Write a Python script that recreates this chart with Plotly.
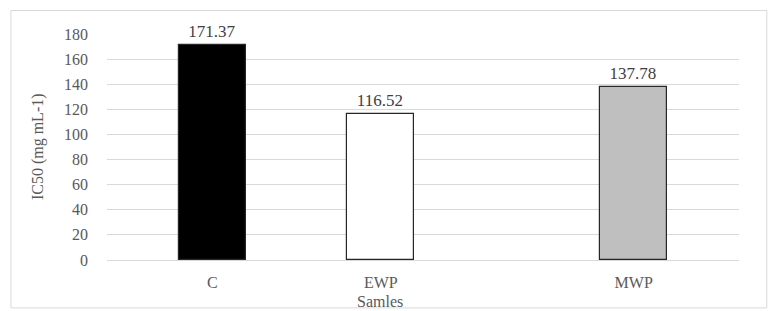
import plotly.graph_objects as go

categories = ["C", "EWP", "MWP"]
values = [171.37, 116.52, 137.78]
labels = ["171.37", "116.52", "137.78"]
slots = [0, 0.8, 2]
colors = ["#000000", "#ffffff", "#bfbfbf"]
y_ticks = [0, 20, 40, 60, 80, 100, 120, 140, 160, 180]
x_title = "Samles"
y_title = "IC50 (mg mL-1)"

font_family = "Liberation Serif"

fig = go.Figure()
fig.add_trace(go.Bar(
    x=slots, y=values, width=0.318,
    marker=dict(color=colors, line=dict(color="#262626", width=1.2)),
    text=labels, textposition="outside", cliponaxis=False,
    textfont=dict(family=font_family, size=17, color="#404040"),
))

fig.update_layout(
    width=769, height=311,
    margin=dict(l=107, r=30, t=34, b=51),
    paper_bgcolor="white", plot_bgcolor="white",
    showlegend=False,
    font=dict(family=font_family, color="#595959", size=16),
    xaxis=dict(range=[-0.5, 2.5], tickvals=slots, ticktext=categories,
               showgrid=False, zeroline=False, showline=True,
               linecolor="#d9d9d9", linewidth=1, ticks="",
               ticklabelstandoff=8,
               tickfont=dict(family=font_family, size=16, color="#595959")),
    yaxis=dict(range=[0, 180], tickvals=y_ticks, showgrid=True,
               gridcolor="#d9d9d9", gridwidth=1, zeroline=False,
               showline=False, ticks="", ticklabelstandoff=18,
               tickfont=dict(family=font_family, size=16, color="#595959")),
    bargap=0,
)

fig.add_annotation(text=y_title, xref="paper", yref="paper",
                   x=-0.109, y=0.5, xanchor="center", yanchor="middle",
                   textangle=-90, showarrow=False,
                   font=dict(family=font_family, size=16, color="#595959"))

fig.add_annotation(text=x_title, xref="paper", yref="paper",
                   x=0.432, y=-0.185, xanchor="center", yanchor="middle",
                   showarrow=False,
                   font=dict(family=font_family, size=16, color="#595959"))

fig.add_shape(type="rect", xref="paper", yref="paper",
              x0=-0.152, x1=1.044, y0=-0.212, y1=1.104,
              line=dict(color="#d9d9d9", width=1), layer="below")

fig.write_html("out.html", config={"displayModeBar": False},
               post_script="document.body.style.margin='0';")
